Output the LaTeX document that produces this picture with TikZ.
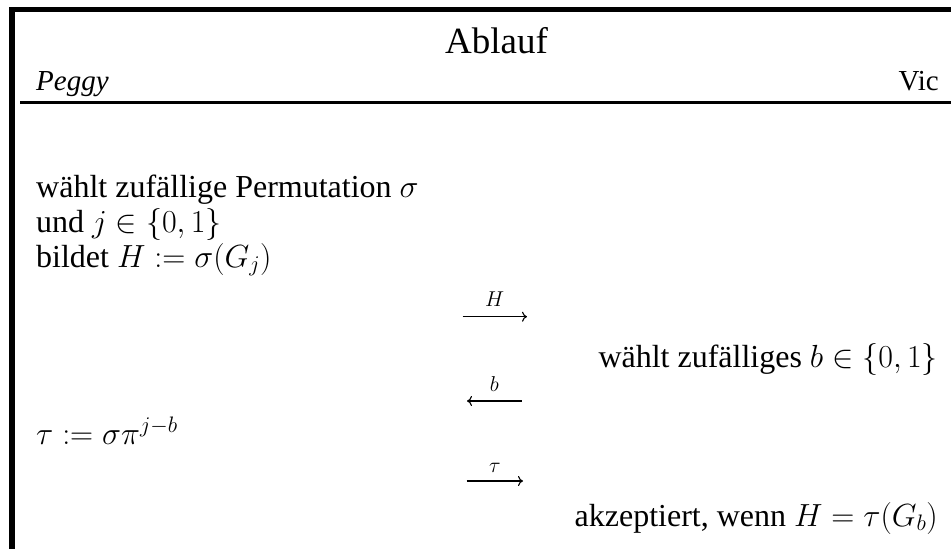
\RequirePackage{fix-cm}
\documentclass[tikz,border=0pt]{standalone}
\usepackage{amsmath}
\usepackage[no-math]{fontspec}
\setmainfont{Liberation Serif}
\usetikzlibrary{arrows.meta}
\begin{document}
\begin{tikzpicture}[x=1pt,y=-1pt,
  head/.style={inner sep=0pt,font=\fontsize{29}{35}\selectfont},
  body/.style={inner sep=0pt,font=\fontsize{32}{35}\selectfont},
  lbl/.style={inner sep=0pt,anchor=base,font=\fontsize{21.5}{24}\selectfont},
  msg/.style={line width=1.1pt,-{Computer Modern Rightarrow[length=5pt,width=10pt]}}]
\useasboundingbox (0,0) rectangle (951,549);
% frame
\fill (9.3,6.7) rectangle (15,549);
\fill (9.3,6.7) rectangle (951,11.7);
\fill (20,100.7) rectangle (951,104);
% header
\node[head,anchor=base,font=\fontsize{37}{44}\selectfont] (title) at (496.5,53) {Ablauf};
\node[head,anchor=base west] (peggy) at (36,90.5) {\itshape Peggy};
\node[head,anchor=base east] (vic) at (939,90.7) {Vic};
% Peggy column
\node[body,anchor=base west] (p1) at (36,197) {wählt zufällige Permutation $\sigma$};
\node[body,anchor=base west] (p2) at (36,232) {und $j\in\{0,1\}$};
\node[body,anchor=base west] (p3) at (36,267) {bildet $H:=\sigma(G_j)$};
\node[body,anchor=base west] (p4) at (36,444) {$\tau:=\sigma\pi^{j-b}$};
% Vic column
\node[body,anchor=base east] (v1) at (938,367) {wählt zufälliges $b\in\{0,1\}$};
\node[body,anchor=base east] (v2) at (938,526) {akzeptiert, wenn $H=\tau(G_b)$};
% messages
\coordinate (h1) at (462.7,316.7); \coordinate (h2) at (527,316.7);
\coordinate (b1) at (521.7,401);   \coordinate (b2) at (467,401);
\coordinate (t1) at (466.7,481);   \coordinate (t2) at (523,481);
\draw[msg] (h1) -- (h2);
\draw[msg] (b1) -- (b2);
\draw[msg] (t1) -- (t2);
\node[lbl] (hl) at (494.7,306.7) {$H$};
\node[lbl] (bl) at (494.3,391) {$b$};
\node[lbl] (tl) at (494.8,472) {$\tau$};
\end{tikzpicture}
\end{document}
